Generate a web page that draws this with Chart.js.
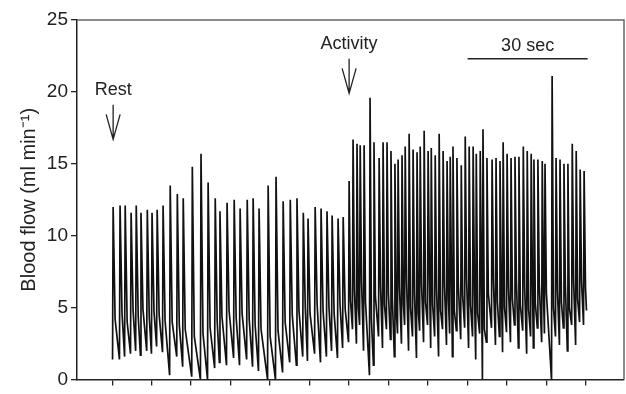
<!DOCTYPE html>
<html>
<head>
<meta charset="utf-8">
<script src="https://cdn.jsdelivr.net/npm/chart.js@4.4.1/dist/chart.umd.min.js"></script>
<style>
  html, body { margin: 0; padding: 0; background: #fff; }
  #flowChart { display: block; }
</style>
</head>
<body>
<canvas id="flowChart" width="626" height="394"></canvas>
<script>
// Beat timing (s) and flow levels (ml min-1), beat by beat
const restTimes = [
  0.25, 2.0, 3.3, 4.8, 6.1, 7.3, 8.9, 10.1, 11.4, 12.9,
  14.7, 16.5, 18.0, 20.3, 22.5, 24.3, 26.1, 27.3, 29.1, 30.9,
  32.4, 34.2, 35.7, 37.2, 39.5, 41.5, 43.3, 45.1, 46.8, 48.4,
  49.6, 51.4, 52.9, 54.4, 55.7, 57.2, 58.5
];
const restPeaks = [
  12.0, 12.1, 12.1, 11.6, 12.1, 11.6, 11.8, 11.6, 11.8, 12.1,
  13.5, 12.9, 12.6, 14.8, 15.7, 13.7, 12.6, 11.7, 12.3, 12.5,
  11.9, 12.5, 12.6, 11.9, 13.5, 14.1, 12.4, 12.5, 12.6, 11.6,
  11.2, 12.0, 11.9, 11.7, 11.4, 11.2, 11.3
];
const restNotches = [
  4.2, 4.6, 4.0, 4.8, 4.4, 4.9, 4.3, 4.7, 4.5, 4.1,
  4.0, 3.8, 3.5, 3.0, 3.2, 3.6, 4.0, 4.4, 4.8, 4.3,
  4.6, 4.2, 3.8, 3.5, 3.0, 3.4, 4.0, 4.5, 4.8, 5.0,
  4.6, 5.2, 4.8, 5.0, 4.6, 5.2, 4.9
];
const restTroughs = [
  1.4, 1.4, 1.6, 1.8, 2.0, 1.7, 2.0, 1.8, 2.3, 1.9,
  0.3, 1.6, 0.9, 0.2, 0.0, 0.0, 0.8, 1.2, 1.0, 1.5,
  1.0, 1.4, 0.9, 0.6, 0.0, 0.0, 0.5, 1.2, 1.0, 1.6,
  1.3, 1.8, 1.2, 1.6, 2.0, 1.5, 2.2
];

const activityTimes = [
  60.0, 61.0, 62.0, 62.8, 63.8, 65.3, 66.3, 67.6, 68.6, 69.6,
  70.6, 71.6, 72.4, 73.4, 74.2, 75.2, 76.2, 77.2, 78.0, 79.0,
  80.0, 80.8, 81.8, 82.8, 83.8, 84.8, 85.6, 86.3, 87.3, 88.4,
  89.4, 90.4, 91.4, 92.2, 93.2, 93.9, 94.9, 96.2, 97.2, 98.2,
  99.0, 100.0, 101.0, 102.0, 103.0, 104.1, 105.1, 106.1, 106.8, 107.8,
  108.9, 109.6, 111.4, 112.4, 113.4, 114.4, 115.4, 116.5, 117.5, 118.5, 119.5
];
const activityPeaks = [
  13.8, 16.7, 16.4, 16.3, 16.3, 19.6, 16.5, 15.4, 16.5, 16.5,
  15.9, 15.0, 15.3, 15.6, 16.2, 17.1, 16.0, 15.8, 16.2, 17.3,
  15.9, 16.1, 15.6, 17.1, 15.9, 15.2, 15.5, 16.2, 15.4, 14.9,
  16.9, 16.2, 16.2, 15.7, 15.9, 17.4, 15.4, 15.3, 15.4, 15.2,
  16.5, 15.7, 15.4, 15.5, 15.5, 16.2, 15.9, 15.7, 15.3, 15.3,
  15.2, 15.0, 21.1, 15.4, 15.3, 15.0, 15.0, 16.4, 15.9, 14.6, 14.5
];
const activityNotches = [
  5.5, 6.2, 5.0, 6.8, 5.4, 4.2, 5.8, 6.5, 5.2, 6.0,
  5.6, 4.8, 6.4, 5.2, 6.8, 5.0, 6.0, 4.6, 6.6, 5.4,
  7.0, 5.2, 6.2, 4.8, 6.5, 5.6, 6.2, 4.8, 6.6, 5.8,
  6.9, 5.2, 6.0, 4.6, 5.8, 3.5, 6.0, 6.8, 5.4, 6.2,
  5.0, 6.4, 5.6, 6.9, 5.2, 6.4, 4.9, 6.0, 5.3, 6.6,
  5.6, 6.0, 5.0, 6.2, 5.4, 6.6, 5.0, 6.8, 5.6, 6.8, 6.4
];
const activityTroughs = [
  2.6, 3.5, 2.5, 3.8, 2.0, 0.3, 1.0, 3.0, 2.2, 3.5,
  2.8, 1.6, 3.2, 2.5, 3.8, 2.0, 3.0, 1.5, 3.4, 2.6,
  3.8, 2.2, 3.0, 1.6, 3.5, 2.4, 3.2, 1.6, 3.4, 2.8,
  3.6, 2.2, 3.0, 1.4, 3.2, 0.0, 2.6, 3.6, 2.4, 3.0,
  1.9, 3.3, 2.6, 3.8, 2.2, 3.4, 1.8, 3.0, 2.2, 3.6,
  2.6, 3.2, 0.0, 3.0, 2.4, 3.6, 2.0, 3.8, 2.4, 4.0, 3.8
];
const traceEnd = { t: 120.1, flow: 4.8 };

const yTicks = [0, 5, 10, 15, 20, 25];
const xTicks = [0, 10, 20, 30, 40, 50, 60, 70, 80, 90, 100, 110, 120];

// markers drawn on top of the trace (data coordinates)
const markers = [
  { text: 'Rest', t: 0.25, textY: 20.1, top: 19.1, tip: 16.7 },
  { text: 'Activity', t: 60.0, textY: 23.3, top: 22.3, tip: 19.9 }
];
const timeBar = { text: '30 sec', from: 90, to: 120.4, y: 22.3, textY: 23.2 };

const FONT = '"Liberation Sans", Arial, Helvetica, sans-serif';
const INK = '#222';

function buildTrace() {
  const times = restTimes.concat(activityTimes);
  const peaks = restPeaks.concat(activityPeaks);
  const notches = restNotches.concat(activityNotches);
  const troughs = restTroughs.concat(activityTroughs);
  const pts = [];
  for (let i = 0; i < times.length; i++) {
    // sharp systolic upstroke, fast fall to the notch, slow run-off to next trough
    const fall = i < restTimes.length ? 0.5 : 0.35;
    pts.push({ x: times[i] - 0.15, y: troughs[i] });
    pts.push({ x: times[i], y: peaks[i] });
    pts.push({ x: times[i] + fall, y: notches[i] });
  }
  pts.push({ x: traceEnd.t, y: traceEnd.flow });
  return pts;
}

const overlayPlugin = {
  id: 'overlay',
  afterDraw(chart) {
    const { ctx, chartArea: a, scales: { x, y } } = chart;
    ctx.save();
    // top / right frame
    ctx.strokeStyle = '#666';
    ctx.lineWidth = 1.5;
    ctx.beginPath();
    ctx.moveTo(a.left, a.top);
    ctx.lineTo(a.right, a.top);
    ctx.lineTo(a.right, a.bottom);
    ctx.stroke();

    ctx.fillStyle = INK;
    ctx.strokeStyle = INK;
    ctx.font = '18px ' + FONT;
    ctx.textAlign = 'center';
    ctx.textBaseline = 'middle';
    ctx.lineWidth = 1.3;
    markers.forEach(function (m) {
      const px = x.getPixelForValue(m.t);
      const top = y.getPixelForValue(m.top);
      const tip = y.getPixelForValue(m.tip);
      ctx.fillText(m.text, px, y.getPixelForValue(m.textY));
      ctx.beginPath();
      ctx.moveTo(px, top);
      ctx.lineTo(px, tip);
      ctx.moveTo(px - 7, tip - 25);
      ctx.lineTo(px, tip);
      ctx.lineTo(px + 7, tip - 25);
      ctx.stroke();
    });

    const bx0 = x.getPixelForValue(timeBar.from);
    const bx1 = x.getPixelForValue(timeBar.to);
    const by = y.getPixelForValue(timeBar.y);
    ctx.lineWidth = 1.5;
    ctx.beginPath();
    ctx.moveTo(bx0, by);
    ctx.lineTo(bx1, by);
    ctx.stroke();
    ctx.fillText(timeBar.text, (bx0 + bx1) / 2, y.getPixelForValue(timeBar.textY));
    ctx.restore();
  }
};

const ctx = document.getElementById('flowChart').getContext('2d');
const flowChart = new Chart(ctx, {
  type: 'line',
  data: {
    datasets: [{
      data: buildTrace(),
      borderColor: '#111',
      borderWidth: 1.7,
      pointRadius: 0,
      tension: 0,
      fill: false
    }]
  },
  options: {
    responsive: false,
    animation: false,
    layout: { padding: { top: 20, right: 2, bottom: 0, left: 0 } },
    plugins: { legend: { display: false }, tooltip: { enabled: false } },
    scales: {
      x: {
        type: 'linear',
        min: -8.9,
        max: 129.6,
        afterBuildTicks: function (scale) {
          scale.ticks = xTicks.map(function (v) { return { value: v }; });
        },
        afterFit: function (scale) { scale.height = 5; },
        ticks: { display: false },
        grid: { drawOnChartArea: false, drawTicks: true, tickLength: 6, color: INK, lineWidth: 1.3 },
        border: { display: true, color: INK, width: 1.5 }
      },
      y: {
        min: 0,
        max: 25,
        afterBuildTicks: function (scale) {
          scale.ticks = yTicks.map(function (v) { return { value: v }; });
        },
        afterFit: function (scale) { scale.width = 77; },
        ticks: { color: INK, padding: 3, font: { family: FONT, size: 19 } },
        grid: { drawOnChartArea: false, drawTicks: true, tickLength: 6, color: INK, lineWidth: 1.3 },
        border: { display: true, color: INK, width: 1.5 },
        title: {
          display: true,
          text: 'Blood flow (ml min\u207B\u00B9)',
          color: INK,
          font: { family: FONT, size: 20 },
          padding: { top: 17, bottom: 0 }
        }
      }
    }
  },
  plugins: [overlayPlugin]
});
</script>
</body>
</html>
